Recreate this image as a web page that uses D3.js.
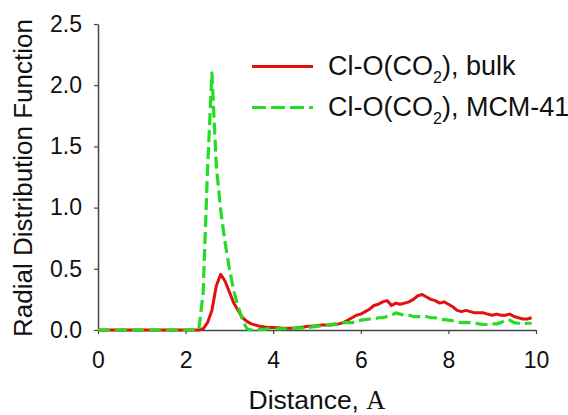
<!DOCTYPE html>
<html>
<head>
<meta charset="utf-8">
<script src="https://cdn.jsdelivr.net/npm/d3@7"></script>
<style>
  html, body { margin: 0; padding: 0; background: #fff; }
  svg { display: block; }
  text { font-family: "Liberation Sans", Arial, sans-serif; fill: #111; }
</style>
</head>
<body>
<script>
// Cl–O(CO2) radial distribution functions, bulk vs. confined in MCM-41
const distance = d3.range(100).map(i => +(i * 0.1).toFixed(1)); // 0.0 … 9.9 Å

const bulk = [
  0, 0, 0, 0, 0, 0, 0, 0, 0, 0,               // 0.0–0.9
  0, 0, 0, 0, 0, 0, 0, 0, 0, 0,               // 1.0–1.9
  0, 0, 0, 0, 0.01, 0.06, 0.16, 0.36, 0.455, 0.40,          // 2.0–2.9
  0.31, 0.22, 0.16, 0.10, 0.07, 0.05, 0.04, 0.03, 0.025, 0.02, // 3.0–3.9
  0.02, 0.018, 0.015, 0.015, 0.015, 0.017, 0.02, 0.025, 0.03, 0.03, // 4.0–4.9
  0.035, 0.04, 0.04, 0.04, 0.045, 0.05, 0.06, 0.08, 0.10, 0.12,     // 5.0–5.9
  0.13, 0.15, 0.17, 0.20, 0.21, 0.23, 0.24, 0.20, 0.22, 0.21,       // 6.0–6.9
  0.22, 0.23, 0.25, 0.28, 0.29, 0.27, 0.25, 0.24, 0.22, 0.23,       // 7.0–7.9
  0.21, 0.19, 0.16, 0.15, 0.16, 0.15, 0.14, 0.14, 0.14, 0.13,       // 8.0–8.9
  0.12, 0.13, 0.12, 0.12, 0.13, 0.11, 0.10, 0.09, 0.09, 0.10        // 9.0–9.9
];

const mcm41 = [
  0, 0, 0, 0, 0, 0, 0, 0, 0, 0,
  0, 0, 0, 0, 0, 0, 0, 0, 0, 0,
  0, 0, 0, 0, 0.30, 1.30, 2.10, 1.35, 0.98, 0.72,
  0.50, 0.32, 0.19, 0.08, 0.01, 0.0, 0.0, 0.005, 0.005, 0.01,
  0.01, 0.01, 0.01, 0.012, 0.015, 0.015, 0.015, 0.02, 0.02, 0.025,
  0.03, 0.035, 0.04, 0.04, 0.05, 0.05, 0.06, 0.06, 0.06, 0.07,
  0.08, 0.085, 0.09, 0.09, 0.10, 0.10, 0.11, 0.12, 0.14, 0.13,
  0.12, 0.12, 0.11, 0.11, 0.11, 0.11, 0.10, 0.10, 0.09, 0.085,
  0.08, 0.075, 0.065, 0.06, 0.06, 0.06, 0.055, 0.05, 0.045, 0.045,
  0.05, 0.05, 0.06, 0.08, 0.08, 0.06, 0.055, 0.05, 0.055, 0.055
];

const xTicks = [0, 2, 4, 6, 8, 10];
const yTicks = [0, 0.5, 1.0, 1.5, 2.0, 2.5];

const seriesNames = ["Cl-O(CO", "Cl-O(CO"];
const seriesSuffix = ["), bulk", "), MCM-41"];
const seriesColors = ["#e31010", "#22dd22"];

const W = 568, H = 415;
const svg = d3.select("body").append("svg").attr("width", W).attr("height", H);

const x = d3.scaleLinear().domain([0, 10]).range([98, 536]);
const y = d3.scaleLinear().domain([0, 2.5]).range([330, 24]);

const axisColor = "#444";
const tickFont = "23px";

// x axis
const gx = svg.append("g")
  .attr("transform", `translate(0,${y(0)})`)
  .call(d3.axisBottom(x).tickValues(xTicks).tickFormat(d3.format("d"))
    .tickSize(4).tickSizeOuter(0).tickPadding(18));
gx.select(".domain").attr("stroke", axisColor).attr("stroke-width", 1.5);
gx.selectAll(".tick line").attr("stroke", axisColor).attr("stroke-width", 1.2);
gx.selectAll(".tick text").style("font-size", tickFont).attr("fill", "#111")
  .style("font-family", "Liberation Sans, Arial, sans-serif");

// y axis
const gy = svg.append("g")
  .attr("transform", `translate(${x(0)},0)`)
  .call(d3.axisLeft(y).tickValues(yTicks).tickFormat(d3.format(".1f"))
    .tickSize(4).tickSizeOuter(0).tickPadding(12));
gy.select(".domain").attr("stroke", axisColor).attr("stroke-width", 1.5);
gy.selectAll(".tick line").attr("stroke", axisColor).attr("stroke-width", 1.2);
gy.selectAll(".tick text").style("font-size", tickFont).attr("fill", "#111")
  .style("font-family", "Liberation Sans, Arial, sans-serif");

// axis titles
svg.append("text")
  .attr("transform", `translate(32,${(y(0) + y(2.5)) / 2 + 1}) rotate(-90)`)
  .attr("text-anchor", "middle")
  .style("font-size", "26px")
  .text("Radial Distribution Function");

const xt = svg.append("text")
  .attr("x", (x(0) + x(10)) / 2)
  .attr("y", 409)
  .attr("text-anchor", "middle")
  .style("font-size", "26.5px");
xt.append("tspan").text("Distance, ");
xt.append("tspan").style("font-family", "Liberation Serif, 'Times New Roman', serif").text("A");

// curves
const line = d3.line()
  .x((d, i) => x(distance[i]))
  .y(d => y(d));

svg.append("path")
  .datum(bulk)
  .attr("fill", "none")
  .attr("stroke", seriesColors[0])
  .attr("stroke-width", 3)
  .attr("stroke-linejoin", "round")
  .attr("d", line);

svg.append("path")
  .datum(mcm41)
  .attr("fill", "none")
  .attr("stroke", seriesColors[1])
  .attr("stroke-width", 3.2)
  .attr("stroke-dasharray", "12,5")
  .attr("stroke-linejoin", "round")
  .attr("d", line);

// legend
const legendRows = [66.5, 107.5];
legendRows.forEach((ly, i) => {
  svg.append("line")
    .attr("x1", 252).attr("x2", 313)
    .attr("y1", ly).attr("y2", ly)
    .attr("stroke", seriesColors[i])
    .attr("stroke-width", 3.2)
    .attr("stroke-dasharray", i === 1 ? "14,5" : null);
  const t = svg.append("text")
    .attr("x", 328).attr("y", ly + 8)
    .style("font-size", "27px");
  t.append("tspan").text(seriesNames[i]);
  t.append("tspan").attr("dy", 8).style("font-size", "16px").text("2");
  t.append("tspan").attr("dy", -8).text(seriesSuffix[i]);
});
</script>
</body>
</html>
